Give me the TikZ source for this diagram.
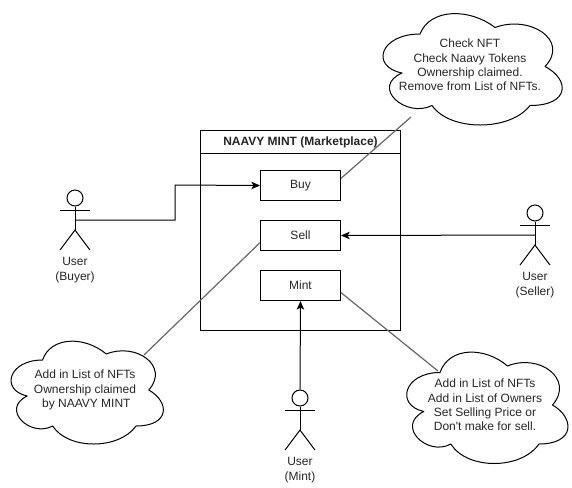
\documentclass[tikz,border=0pt]{standalone}
\usepackage{fontspec}
\setmainfont{Liberation Sans}
\newfontfamily\plainfont{Liberation Sans}
\usetikzlibrary{arrows.meta,calc}
\tikzset{
  x=0.75pt,y=-0.75pt,
  every node/.style={font=\fontsize{9}{10.8}\selectfont,align=center,inner sep=0pt,text=black!85},
  outline/.style={draw=black,line width=0.75pt},
  boxnode/.style={outline,minimum width=60pt,minimum height=22.5pt,anchor=north west},
  flow/.style={outline,-{Stealth[length=6.5pt,width=5.6pt,inset=1.6pt]}},
  noteline/.style={draw=black!60,line width=0.9pt},
  headnode/.style={outline,circle,minimum size=12pt},
}
\newcommand{\cloudshape}[4]{%
  \begin{scope}[shift={(#1,#2)},x=#3*0.75pt,y=-#4*0.75pt]
    \draw[outline,line join=round] (0.25,0.25)
      .. controls (0.05,0.25) and (0,0.5) .. (0.16,0.55)
      .. controls (0,0.66) and (0.18,0.9) .. (0.31,0.8)
      .. controls (0.4,1) and (0.7,1) .. (0.8,0.8)
      .. controls (1,0.8) and (1,0.6) .. (0.875,0.5)
      .. controls (1,0.3) and (0.8,0.1) .. (0.625,0.2)
      .. controls (0.5,0.05) and (0.3,0.05) .. (0.25,0.25) -- cycle;
  \end{scope}}
\newcommand{\actorfig}[4]{%
  \begin{scope}[shift={(#2,#3)}]
    \node[headnode] (#1head) at (0,-12) {};
    \coordinate (#1hip) at (0,20);
    \coordinate (#1port) at (0,10);
    \draw[outline] (#1head.south) -- (#1hip);
    \draw[outline] (-15,0) -- (15,0);
    \draw[outline] (-15,40) -- (#1hip) -- (15,40);
    \node (#1label) at (0,60) {User\\(#4)};
  \end{scope}}
\begin{document}
\begin{tikzpicture}
\useasboundingbox (0,0) rectangle (572,487);
% container
\node[outline,minimum width=150pt,minimum height=150pt,anchor=north west] (market) at (200,130) {};
\node[outline,minimum width=150pt,minimum height=17.25pt,anchor=north west,font=\fontsize{9}{10.8}\selectfont\bfseries] (title) at (200,130) {NAAVY MINT (Marketplace)};
% operations
\node[boxnode] (buy) at (260,170) {Buy};
\node[boxnode] (sell) at (260,220) {Sell};
\node[boxnode] (mint) at (260,270) {Mint};
% clouds
\cloudshape{370}{1.5}{200}{130}
\node (noteA) at (470,65) {Check NFT\\Check Naavy Tokens\\Ownership claimed.\\Remove from List of NFTs.};
\cloudshape{0}{330}{170}{120}
\node (noteB) at (85,390) {Add in List of NFTs\\Ownership claimed\\\hspace*{2pt}by NAAVY MINT};
\cloudshape{395}{340}{180}{130}
\node (noteC) at (485,405) {Add in List of NFTs\\Add in List of Owners\\Set Selling Price or\\Don{\plainfont '}t make for sell.};
\coordinate (noteAport) at (411,117);
\coordinate (noteBport) at (144,355);
\coordinate (noteCport) at (438,371);
% actors
\actorfig{buyer}{75}{210}{Buyer}
\actorfig{seller}{535}{225}{Seller}
\actorfig{minter}{300}{410}{Mint}
% connectors
\draw[flow] (buyerport) -- (175,220) -- (175,185) -- (buy.west);
\draw[flow] (sellerport) -- (sell.east);
\draw[flow] (minterhead.north) -- (mint.south);
\draw[noteline] ($(buy.north east)!0.27!(buy.south east)$) -- (noteAport);
\draw[noteline] ($(sell.north west)!0.73!(sell.south west)$) -- (noteBport);
\draw[noteline] ($(mint.north east)!0.73!(mint.south east)$) -- (noteCport);
\end{tikzpicture}
\end{document}
